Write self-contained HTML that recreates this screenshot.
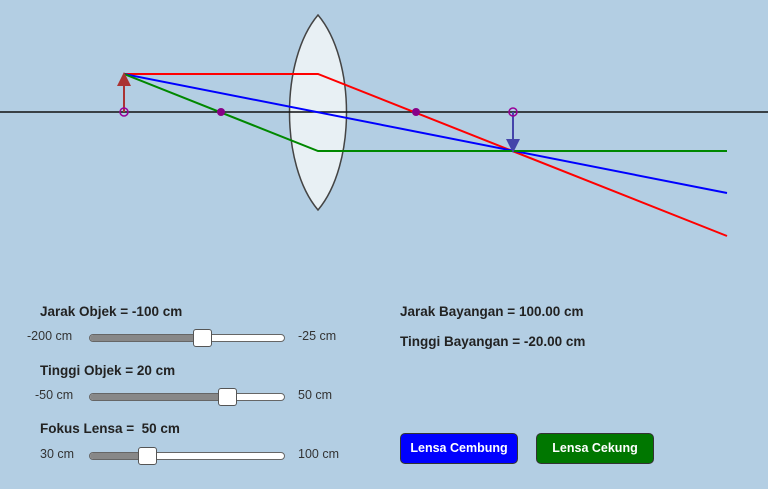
<!DOCTYPE html>
<html><head><style>
body{margin:0;width:768px;height:489px;background:#b3cee3;font-family:"Liberation Sans",sans-serif;position:relative;overflow:hidden}
.t{position:absolute;font-size:13.5px;font-weight:bold;color:#222;white-space:nowrap}
.l{position:absolute;font-size:12.5px;color:#333;white-space:nowrap}
.tr{position:absolute;left:89px;width:194px;height:6px;border:1px solid #666;border-radius:4px;background:#fff}
.fill{position:absolute;left:0;top:0;height:6px;background:#888;border-radius:4px}
.th{position:absolute;width:17px;height:16px;background:#fff;border:1px solid #555;border-radius:3px}
.b{position:absolute;top:433px;width:116px;height:29px;border:1px solid #333;border-radius:5px;color:#fff;font-weight:bold;font-size:12.5px;text-align:center;line-height:29px}
</style></head><body>
<svg width="768" height="260" style="position:absolute;left:0;top:0">
<path d="M318,15 C280,60 280,165 318,210 C356,165 356,60 318,15 Z" fill="#e8f0f4" stroke="#444" stroke-width="1.5"/>
<line x1="0" y1="112" x2="768" y2="112" stroke="#111" stroke-width="1.5"/>
<polyline points="124,74 318,74 727,236" fill="none" stroke="#f00" stroke-width="2"/>
<line x1="124" y1="74" x2="727" y2="193" stroke="#00f" stroke-width="2"/>
<polyline points="124,74 318,151 727,151" fill="none" stroke="#080" stroke-width="2"/>
<line x1="124" y1="112" x2="124" y2="84" stroke="#a33" stroke-width="2"/>
<polygon points="117,86 131,86 124,72" fill="#a33"/>
<line x1="513" y1="112" x2="513" y2="140" stroke="#44a" stroke-width="2"/>
<polygon points="506,139 520,139 513,153" fill="#44a"/>
<circle cx="124" cy="112" r="4" fill="none" stroke="#909" stroke-width="1.5"/>
<circle cx="513" cy="112" r="4" fill="none" stroke="#909" stroke-width="1.5"/>
<circle cx="221" cy="112" r="4" fill="#808"/>
<circle cx="416" cy="112" r="4" fill="#808"/>
</svg>
<div class="t" style="left:40px;top:304px">Jarak Objek = -100 cm</div>
<div class="l" style="left:27px;top:329px">-200 cm</div>
<div class="tr" style="top:334px"><div class="fill" style="width:115px"></div></div>
<div class="th" style="left:193px;top:329px"></div>
<div class="l" style="left:298px;top:329px">-25 cm</div>
<div class="t" style="left:40px;top:363px">Tinggi Objek = 20 cm</div>
<div class="l" style="left:35px;top:388px">-50 cm</div>
<div class="tr" style="top:393px"><div class="fill" style="width:140px"></div></div>
<div class="th" style="left:218px;top:388px"></div>
<div class="l" style="left:298px;top:388px">50 cm</div>
<div class="t" style="left:40px;top:421px">Fokus Lensa = &nbsp;50 cm</div>
<div class="l" style="left:40px;top:447px">30 cm</div>
<div class="tr" style="top:452px"><div class="fill" style="width:60px"></div></div>
<div class="th" style="left:138px;top:447px"></div>
<div class="l" style="left:298px;top:447px">100 cm</div>
<div class="t" style="left:400px;top:304px">Jarak Bayangan = 100.00 cm</div>
<div class="t" style="left:400px;top:334px">Tinggi Bayangan = -20.00 cm</div>
<div class="b" style="left:400px;background:#00f">Lensa Cembung</div>
<div class="b" style="left:536px;background:#070">Lensa Cekung</div>
</body></html>
